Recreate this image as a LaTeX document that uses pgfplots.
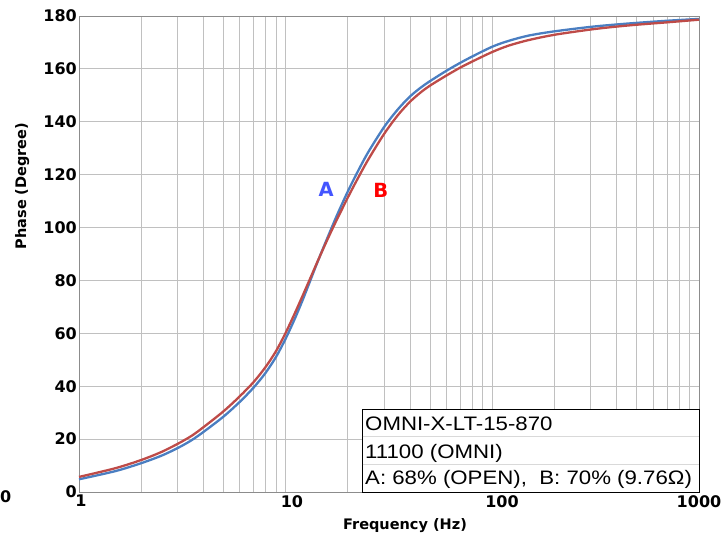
\documentclass[border=0pt]{standalone}
\usepackage{pgfplots}
\pgfplotsset{compat=1.18}
\usepackage{pgfplotstable}
\usepackage{fontspec}
\setmainfont{DejaVu Sans}
\newfontfamily\boxfont[FakeStretch=1.14]{Liberation Sans}
\definecolor{curveA}{RGB}{74,126,193}
\definecolor{curveB}{RGB}{190,75,72}
\definecolor{labA}{RGB}{68,85,255}
\definecolor{labB}{RGB}{255,0,0}
\definecolor{gridc}{RGB}{192,192,192}
\definecolor{axc}{RGB}{140,140,140}
\newcommand{\tickf}{\fontsize{16}{16}\selectfont\bfseries}
\newcommand{\labf}{\fontsize{14.5}{14.5}\selectfont\bfseries}
\newcommand{\boxf}{\boxfont\fontsize{19.5}{19.5}\selectfont}

\pgfplotstableread{
f phase
1 4.8
1.5 7.9
2 10.9
2.5 13.7
3 16.6
3.5 19.55
4 22.7
5 28.5
6 34.1
7 39.5
8 45.1
9 51.2
10 58.0
11 65.0
12 72.0
13 78.9
14 85.4
15 91.2
16 96.5
17 101.4
18 105.9
20 113.7
22 120.2
25 128.3
30 138.1
35 144.8
40 149.6
45 152.9
50 155.4
60 159.3
70 162.3
80 164.7
100 168.4
120 170.6
150 172.6
200 174.2
300 175.9
400 176.8
500 177.4
700 178.2
1000 178.9
}\seriesA

\pgfplotstableread{
f phase
1 5.7
1.5 9.0
2 12.1
2.5 15.1
3 18.2
3.5 21.2
4 24.5
5 30.5
6 36.2
7 41.6
8 47.3
9 53.4
10 60.2
11 67.1
12 73.7
13 79.9
14 85.7
15 91.0
16 95.8
17 100.2
18 104.2
20 111.4
22 117.6
25 125.5
30 135.5
35 142.6
40 147.6
45 151.1
50 153.7
60 157.5
70 160.5
80 162.8
100 166.4
120 168.8
150 170.9
200 172.9
300 174.9
400 176.0
500 176.7
700 177.6
1000 178.6
}\seriesB

\begin{document}
\begin{tikzpicture}[x=1pt,y=1pt]
\useasboundingbox (0,0) rectangle (727,532);
\begin{axis}[
  at={(79pt,40pt)}, anchor=south west,
  scale only axis, width=620pt, height=476pt,
  xmode=log, xmin=1, xmax=1000, ymin=0, ymax=180,
  xtick={1,10,100,1000},
  xticklabels={\hspace{4pt}1,\hspace{12.6pt}10,\hspace{19.4pt}100,1000\hspace{17pt}},
  ytick={0,20,...,180},
  grid=both,
  major grid style={draw=gridc, line width=0.9pt},
  minor grid style={draw=gridc, line width=0.9pt},
  axis line style={draw=axc, line width=0.9pt},
  tick style={draw=none},
  /pgf/number format/assume math mode=true,
  tick label style={font=\tickf},
  yticklabel style={inner xsep=2pt},
  xticklabel style={inner ysep=3pt},
  clip=false,
]
\addplot[curveA, line width=2.3pt, smooth] table[x=f, y=phase] {\seriesA};
\addplot[curveB, line width=2.3pt, smooth] table[x=f, y=phase] {\seriesB};
\node[font=\fontsize{19.5}{19.5}\selectfont\bfseries, text=labA] at (axis cs:15.7,114.6) {A};
\node[font=\fontsize{19.5}{19.5}\selectfont\bfseries, text=labB] at (axis cs:28.9,114.2) {B};
\end{axis}
% annotation box
\draw[fill=white, draw=black, line width=0.9pt] (362,40) rectangle (699,122.7);
\draw[gridc!60, line width=0.8pt] (362.5,95.3) -- (698.5,95.3);
\draw[gridc!60, line width=0.8pt] (362.5,68) -- (698.5,68);
\node[anchor=base west, inner sep=0, font=\boxf] at (365,101.3) {OMNI-X-LT-15-870};
\node[anchor=base west, inner sep=0, font=\boxf] at (365,73.7) {11100 (OMNI)};
\node[anchor=base west, inner sep=0, font=\boxf] at (365,47) {A: 68\% (OPEN),\ \ B: 70\% (9.76Ω)};
% axis titles
\node[anchor=base, inner sep=0, font=\labf] at (405,3) {Frequency (Hz)};
\node[anchor=base, inner sep=0, rotate=90, font=\labf] at (26,346) {Phase (Degree)};
\node[anchor=base west, inner sep=0, font=\tickf] at (0,29) {0};
\end{tikzpicture}
\end{document}
